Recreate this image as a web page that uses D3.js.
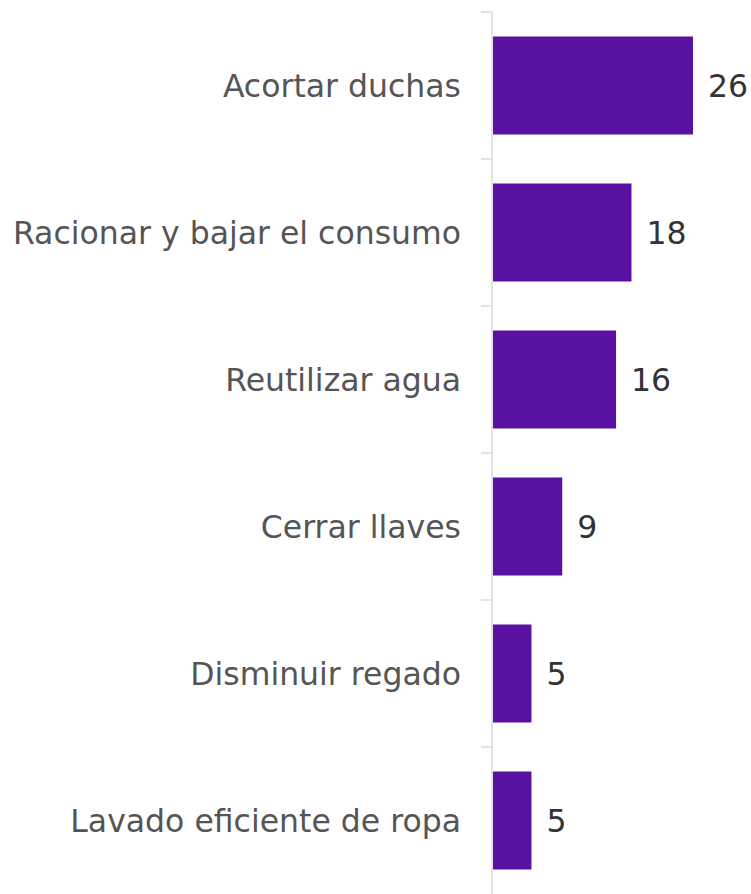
<!DOCTYPE html>
<html>
<head>
<meta charset="utf-8">
<script src="https://cdn.jsdelivr.net/npm/d3@7"></script>
<style>
  html, body { margin: 0; padding: 0; background: #fff; }
  svg { display: block; }
</style>
</head>
<body>
<svg id="chart" width="751" height="894"></svg>
<script>
const categories = [
  "Acortar duchas",
  "Racionar y bajar el consumo",
  "Reutilizar agua",
  "Cerrar llaves",
  "Disminuir regado",
  "Lavado eficiente de ropa"
];
const values = [26, 18, 16, 9, 5, 5];

const W = 751, H = 894;
const axisX = 492;
const svg = d3.select("#chart");

const y = d3.scaleBand()
  .domain(categories)
  .range([12, H])
  .paddingInner(1 / 3)
  .paddingOuter(1 / 6);

const x = d3.scaleLinear()
  .domain([0, d3.max(values)])
  .range([axisX + 1, axisX + 201]);

const data = categories.map((c, i) => ({ c, v: values[i] }));
const step = y.step();

// axis line
svg.append("line")
  .attr("x1", axisX).attr("x2", axisX)
  .attr("y1", 12).attr("y2", H)
  .attr("stroke", "#dcdcdc").attr("stroke-width", 1.6);

// ticks at band boundaries
svg.selectAll("line.tick")
  .data(categories)
  .join("line")
  .attr("class", "tick")
  .attr("x1", axisX - 11).attr("x2", axisX)
  .attr("y1", d => y(d) - step * y.paddingInner() / 2)
  .attr("y2", d => y(d) - step * y.paddingInner() / 2)
  .attr("stroke", "#dcdcdc").attr("stroke-width", 1.6);

// bars
svg.selectAll("rect.bar")
  .data(data)
  .join("rect")
  .attr("class", "bar")
  .attr("x", x(0))
  .attr("y", d => y(d.c))
  .attr("width", d => x(d.v) - x(0))
  .attr("height", y.bandwidth())
  .attr("fill", "#5811a0");

// category labels
svg.selectAll("text.cat")
  .data(data)
  .join("text")
  .attr("class", "cat")
  .attr("x", 461)
  .attr("y", d => y(d.c) + y.bandwidth() / 2)
  .attr("dy", "0.36em")
  .attr("text-anchor", "end")
  .attr("font-family", "DejaVu Sans, sans-serif")
  .attr("font-size", 31.5)
  .attr("fill", "#555555")
  .text(d => d.c);

// value labels
svg.selectAll("text.val")
  .data(data)
  .join("text")
  .attr("class", "val")
  .attr("x", d => x(d.v) + 15)
  .attr("y", d => y(d.c) + y.bandwidth() / 2)
  .attr("dy", "0.36em")
  .attr("text-anchor", "start")
  .attr("font-family", "DejaVu Sans, sans-serif")
  .attr("font-size", 31.5)
  .attr("fill", "#333333")
  .text(d => d3.format("d")(d.v));
</script>
</body>
</html>
